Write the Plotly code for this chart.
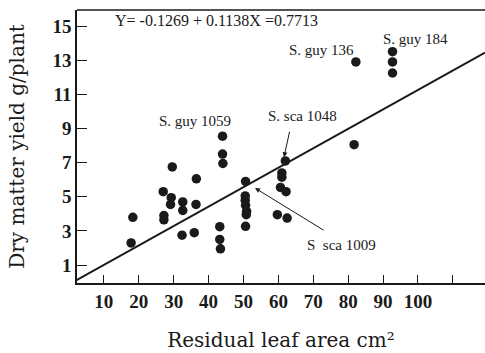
import plotly.graph_objects as go

# Data
leaf_area = [17.8, 18.3, 27.0, 27.2, 27.2, 29.6, 29.3, 29.1, 32.6, 32.6, 32.4,
             36.5, 36.4, 35.9, 43.2, 43.2, 43.4, 44.0, 44.0, 44.1,
             50.6, 50.5, 50.5, 50.6, 50.9, 50.8, 50.6,
             59.7, 62.5, 60.6, 62.2, 61.0, 61.0, 62.0,
             81.7, 82.2, 92.7, 92.7, 92.7]
dry_matter = [2.3, 3.8, 5.3, 3.9, 3.65, 6.75, 4.95, 4.55, 4.7, 4.2, 2.75,
              6.05, 4.55, 2.9, 3.25, 2.5, 1.95, 8.55, 7.5, 6.95,
              5.9, 5.05, 4.8, 4.5, 4.15, 3.95, 3.27,
              3.95, 3.75, 5.55, 5.3, 6.4, 6.15, 7.1,
              8.05, 12.9, 13.5, 12.9, 12.25]

intercept = -0.1269
slope = 0.1138
line_x = [1.1, 119.2]
line_y = [intercept + slope * v for v in line_x]

x_ticks = [10, 20, 30, 40, 50, 60, 70, 80, 90, 100, 110]
x_tick_text = ["10", "20", "30", "40", "50", "60", "70", "80", "90", "100", ""]
y_ticks = [1, 3, 5, 7, 9, 11, 13, 15]

FONT = "Liberation Serif"
TITLE_FONT = "DejaVu Serif"
INK = "#1a1a1a"

fig = go.Figure()
fig.add_trace(go.Scatter(x=line_x, y=line_y, mode="lines",
                         line=dict(color=INK, width=2), hoverinfo="skip"))
fig.add_trace(go.Scatter(x=leaf_area, y=dry_matter, mode="markers",
                         marker=dict(color=INK, size=9.5)))

labels = [
    ("Y= -0.1269 + 0.1138X =0.7713", 12.6, 15.3, 16, "left"),
    ("S. guy 136", 72.3, 13.6, 15, "center"),
    ("S. guy 184", 99.3, 14.25, 15, "center"),
    ("S. guy 1059", 36.0, 9.45, 15, "center"),
    ("S. sca 1048", 67.0, 9.75, 15, "center"),
    ("S  sca 1009", 78.2, 2.2, 15, "center"),
]
for text, x, y, size, align in labels:
    fig.add_annotation(x=x, y=y, text=text, showarrow=False,
                       xanchor=align, yanchor="middle",
                       font=dict(family=FONT, size=size, color=INK))

fig.add_annotation(x=61.6, y=7.32, ax=63.3, ay=8.9, axref="x", ayref="y",
                   text="", showarrow=True, arrowhead=2, arrowsize=1,
                   arrowwidth=1, arrowcolor=INK)
fig.add_annotation(x=53.3, y=5.51, ax=73.4, ay=2.99, axref="x", ayref="y",
                   text="", showarrow=True, arrowhead=2, arrowsize=1,
                   arrowwidth=1, arrowcolor=INK)

fig.add_shape(type="line", xref="paper", yref="paper", x0=0, x1=1, y0=1, y1=1,
              line=dict(color=INK, width=1.5))

fig.update_layout(
    width=485, height=353,
    margin=dict(l=77, r=0, t=10, b=70),
    paper_bgcolor="white", plot_bgcolor="white",
    showlegend=False,
    font=dict(family=FONT, color=INK),
    xaxis=dict(range=[2.3, 119.2], tickvals=x_ticks, ticktext=x_tick_text,
               ticks="inside", ticklen=8, tickwidth=1.2, tickcolor=INK,
               showgrid=False, zeroline=False, showline=True,
               linecolor=INK, linewidth=1.5,
               tickfont=dict(family=FONT, size=19, color=INK, weight="bold"),
               title=dict(text="Residual leaf area cm²", standoff=22,
                          font=dict(family=TITLE_FONT, size=20, color=INK))),
    yaxis=dict(range=[-0.05, 15.94], tickvals=y_ticks,
               ticks="inside", ticklen=10, tickwidth=1.2, tickcolor=INK,
               showgrid=False, zeroline=False, showline=True,
               linecolor=INK, linewidth=1.5,
               tickfont=dict(family=FONT, size=19, color=INK, weight="bold"),
               title=dict(text="Dry matter yield g/plant", standoff=22,
                          font=dict(family=TITLE_FONT, size=20, color=INK))),
)

fig.write_html("out.html")
